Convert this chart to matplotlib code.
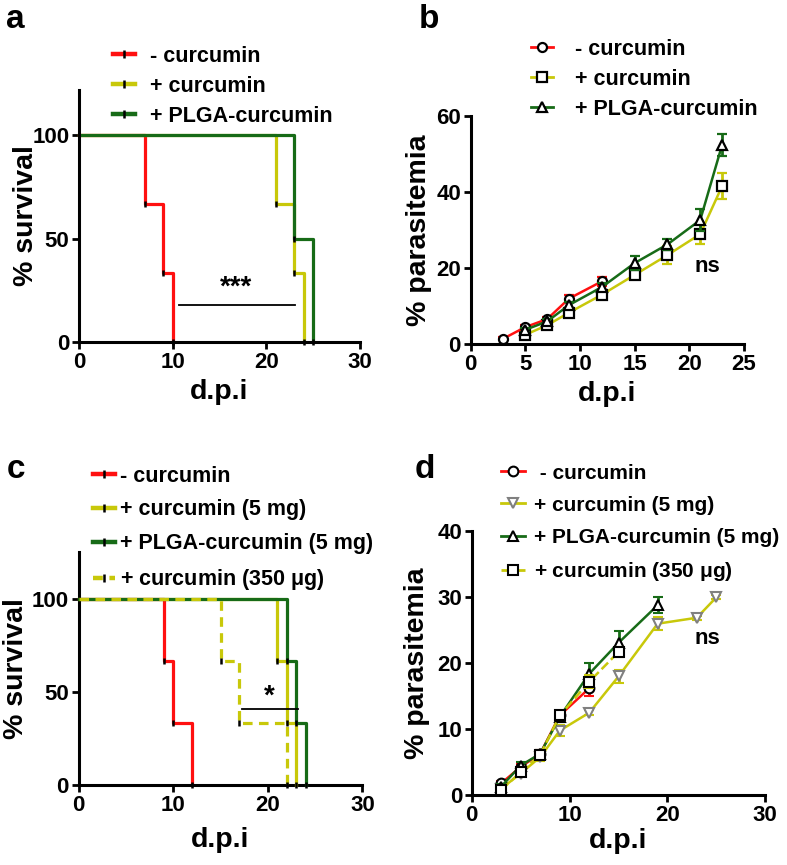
import matplotlib
matplotlib.use("Agg")
import matplotlib.pyplot as plt
from matplotlib.lines import Line2D

plt.rcParams['font.family'] = ['Liberation Sans', 'DejaVu Sans']
plt.rcParams['font.weight'] = 'bold'
plt.rcParams['mathtext.default'] = 'regular'

RED = '#ff1010'
YEL = '#c8c80a'
GRN = '#176b17'

# ---------------- Panel a: survival ----------------
a_labels = ['- curcumin', '+ curcumin', '+ PLGA-curcumin']
a_times = [[0, 7, 9, 10], [0, 21, 23, 24], [0, 23, 25]]
a_surv = [[100, 66.7, 33.3, 0], [100, 66.7, 33.3, 0], [100, 50, 0]]

# ---------------- Panel b: parasitemia ----------------
b_labels = [' - curcumin', ' + curcumin', ' + PLGA-curcumin']
b_x = [[3, 5, 7, 9, 12],
       [5, 7, 9, 12, 15, 18, 21, 23],
       [5, 7, 9, 12, 15, 18, 21, 23]]
b_y = [[1.5, 4.5, 6.6, 12.0, 16.5],
       [2.5, 5.0, 8.3, 13.0, 18.2, 23.4, 28.9, 41.5],
       [3.8, 6.0, 10.3, 15.0, 21.3, 26.2, 32.6, 52.3]]
b_err = [[0.5, 0.6, 0.6, 0.8, 1.2],
         [0.5, 0.6, 0.8, 1.0, 1.2, 2.4, 2.6, 3.5],
         [0.5, 0.6, 0.8, 1.0, 1.8, 1.5, 3.0, 3.0]]

# ---------------- Panel c: survival ----------------
c_labels = ['- curcumin', '+ curcumin (5 mg)', '+ PLGA-curcumin (5 mg)', '+ curcumin (350 $\\mu$g)']
c_times = [[0, 9, 10, 12], [0, 21, 22, 23], [0, 22, 23, 24], [0, 15, 17, 22]]
c_surv = [[100, 66.7, 33.3, 0], [100, 66.7, 33.3, 0], [100, 66.7, 33.3, 0], [100, 66.7, 33.3, 0]]

# ---------------- Panel d: parasitemia ----------------
d_labels = [' - curcumin', '+ curcumin (5 mg)', '+ PLGA-curcumin (5 mg)', '+ curcumin (350 $\\mu$g)']
d_x = [[3, 5, 7, 9, 12],
       [3, 5, 7, 9, 12, 15, 19, 23, 25],
       [3, 5, 7, 9, 12, 15, 19],
       [3, 5, 7, 9, 12, 15]]
d_y = [[1.8, 4.3, 6.3, 12.1, 16.2],
       [1.0, 3.3, 5.8, 9.8, 12.5, 18.0, 26.0, 26.9, 30.0],
       [1.3, 4.5, 6.3, 11.9, 18.4, 23.1, 28.8],
       [0.8, 3.5, 6.1, 12.1, 17.2, 21.7]]
d_err = [[0.4, 0.5, 0.6, 0.6, 1.2],
         [0.3, 0.4, 0.6, 0.8, 0.4, 1.0, 1.0, 0.3, 0.3],
         [0.4, 0.5, 0.6, 0.8, 1.6, 1.8, 1.2],
         [0.3, 0.4, 0.6, 0.6, 1.0, 0.8]]

fig = plt.figure(figsize=(7.87, 8.65), dpi=100)

TICK_FS = 16
LAB_FS = 20.5
LEG_FS = 15.5


def style_axes(ax, xlim, xticks, ylim, yticks, ylabel, xlab_y, ylab_x):
    for s in ['top', 'right']:
        ax.spines[s].set_visible(False)
    for s in ['left', 'bottom']:
        ax.spines[s].set_linewidth(2.2)
    ax.set_xlim(*xlim)
    ax.set_ylim(*ylim)
    ax.set_xticks(xticks)
    ax.set_yticks(yticks)
    ax.tick_params(width=2.0, length=5, labelsize=TICK_FS, direction='out', pad=2)
    for t in ax.get_xticklabels() + ax.get_yticklabels():
        t.set_fontweight('bold')
    ax.set_xlabel('d.p.i', fontsize=LAB_FS, fontweight='bold')
    ax.set_ylabel(ylabel, fontsize=LAB_FS, fontweight='bold')
    ax.xaxis.set_label_coords(0.5, xlab_y)
    ax.xaxis.label.set_va('center')
    ax.yaxis.set_label_coords(ylab_x, 0.5)
    ax.yaxis.label.set_va('center')


def survival(ax, times, surv, color, ls='-', z=2):
    ax.step(times, surv, where='post', color=color, lw=2.3, ls=ls,
            clip_on=False, zorder=z, dashes=(3, 2) if ls == '--' else (None, None))
    ax.plot(times[1:], surv[1:], ls='none', marker='|', color='black',
            ms=5, mew=1.8, clip_on=False, zorder=z + 0.5)


def surv_handle(color, ls='-'):
    kw = dict(color=color, lw=3.2, ls=ls, marker='|', mec='black', mew=1.8, ms=6)
    if ls == '--':
        kw['dashes'] = (2.2, 1.5)
    return Line2D([0], [0], **kw)


def legend(handles, labels, x, y, hl, pad, ls, fs=LEG_FS):
    fig.legend(handles, labels, loc='upper left', bbox_to_anchor=(x, y),
               frameon=False, fontsize=fs, handlelength=hl, handletextpad=pad,
               labelspacing=ls, borderaxespad=0, borderpad=0)


# ---- a ----
axa = fig.add_axes([0.1004, 0.6046, 0.357, 0.2914])
cols_a = [RED, YEL, GRN]
for t, s, c in zip(a_times, a_surv, cols_a):
    survival(axa, t, s, c)
style_axes(axa, (0, 30), [0, 10, 20, 30], (0, 122), [0, 50, 100], '% survival', -0.198, -0.189)
axa.plot([10.65, 23.1], [18, 18], color='black', lw=1.3)
axa.text(16.8, 20.0, '***', ha='center', va='bottom', fontsize=20, fontweight='bold')
legend([surv_handle(c) for c in cols_a], a_labels, 0.1436, 0.947, 1.0, 0.7, 0.42)

# ---- b ----
axb = fig.add_axes([0.598, 0.602, 0.3473, 0.2643])
cols_b = [RED, YEL, GRN]
mk_b = ['o', 's', '^']
for x, y, e, c, m, z in zip(b_x, b_y, b_err, cols_b, mk_b, [3, 2, 4]):
    axb.errorbar(x, y, yerr=e, color=c, lw=1.8, marker=m, mfc='white', mec='black',
                 mew=1.6, ms=6.5, capsize=3.5, capthick=2, elinewidth=2, zorder=z,
                 clip_on=False)
style_axes(axb, (0, 25), [0, 5, 10, 15, 20, 25], (0, 60), [0, 20, 40, 60], '% parasitemia',
           -0.218, -0.189)
axb.text(21.7, 20.4, 'ns', ha='center', va='center', fontsize=16, fontweight='bold')
hb = [Line2D([0], [0], color=c, lw=2, marker=m, mfc='white', mec='black', mew=1.6, ms=6.5)
      for c, m in zip(cols_b, mk_b)]
legend(hb, b_labels, 0.6747, 0.955, 1.0, 0.75, 0.41)

# ---- c ----
axc = fig.add_axes([0.1, 0.0921, 0.3604, 0.2697])
cols_c = [RED, YEL, GRN, YEL]
ls_c = ['-', '-', '-', '--']
for t, s, c, l, z in zip(c_times, c_surv, cols_c, ls_c, [2, 3, 4, 5]):
    survival(axc, t, s, c, ls=l, z=z)
style_axes(axc, (0, 30), [0, 10, 20, 30], (0, 125), [0, 50, 100], '% survival', -0.234, -0.221)
axc.plot([17.3, 23.2], [40.7, 40.7], color='black', lw=1.3, zorder=6)
axc.text(20.2, 40.5, '*', ha='center', va='bottom', fontsize=20, fontweight='bold')
legend([surv_handle(c, l) for c, l in zip(cols_c, ls_c)], c_labels, 0.1182, 0.4618, 1.0, 0.25, 0.6)

# ---- d ----
axd = fig.add_axes([0.5994, 0.0806, 0.373, 0.3052])
cols_d = [RED, YEL, GRN, YEL]
mk_d = ['o', 'v', '^', 's']
mec_d = ['black', '#808080', 'black', 'black']
ls_d = ['-', '-', '-', '--']
for x, y, e, c, m, me, l, z in zip(d_x, d_y, d_err, cols_d, mk_d, mec_d, ls_d, [3, 2, 4, 5]):
    axd.errorbar(x, y, yerr=e, color=c, lw=1.8, ls=l, marker=m, mfc='white', mec=me,
                 mew=1.5, ms=7, capsize=3.5, capthick=2, elinewidth=2, zorder=z,
                 clip_on=False)
style_axes(axd, (0, 30), [0, 10, 20, 30], (0, 40), [0, 10, 20, 30, 40], '% parasitemia',
           -0.173, -0.186)
axd.text(24.1, 23.7, 'ns', ha='center', va='center', fontsize=16, fontweight='bold')
hd = [Line2D([0], [0], color=c, lw=2, ls=l, marker=m, mfc='white', mec=me, mew=1.5, ms=7)
      for c, m, me, l in zip(cols_d, mk_d, mec_d, ls_d)]
legend(hd, d_labels, 0.6366, 0.464, 1.15, 0.45, 0.63, fs=15)

# panel letters
for txt, x, y in [('a', 0.008, 0.995), ('b', 0.532, 0.995), ('c', 0.008, 0.475), ('d', 0.527, 0.475)]:
    fig.text(x, y, txt, fontsize=24, fontweight='bold', ha='left', va='top')

fig.savefig('out.png', dpi=100)
